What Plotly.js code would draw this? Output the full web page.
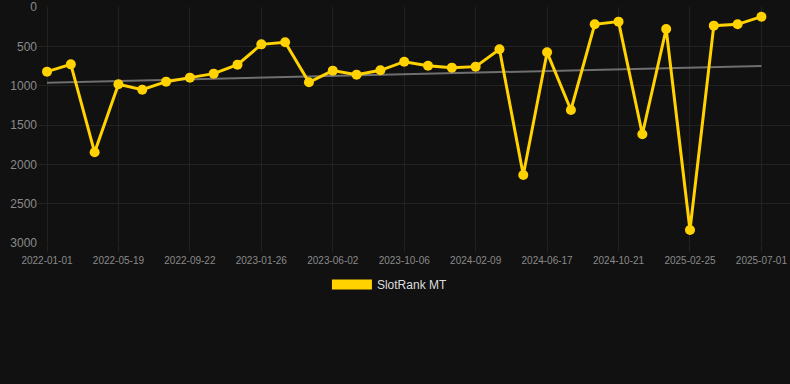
<!DOCTYPE html>
<html>
<head>
<meta charset="utf-8">
<script src="https://cdn.plot.ly/plotly-3.0.1.min.js"></script>
<style>
html,body{margin:0;padding:0;background:#111111;}
#chart{width:790px;height:384px;}
</style>
</head>
<body>
<div id="chart"></div>
<script>
// Point index along the x axis (31 evenly spaced observations)
const pointIndex = [0,1,2,3,4,5,6,7,8,9,10,11,12,13,14,15,16,17,18,19,20,21,22,23,24,25,26,27,28,29,30];
// SlotRank MT rank values (lower is better, axis reversed)
const rankValues = [822,729,1847,983,1051,949,898,847,733,475,449,957,809,860,805,695,746,771,758,538,2135,576,1309,220,186,1618,280,2835,237,220,123];
// Trend line end points
const trendX = [0,30];
const trendValues = [962,750];
// Tick labels
const tickIndex = [0,3,6,9,12,15,18,21,24,27,30];
const tickLabels = ["2022-01-01","2022-05-19","2022-09-22","2023-01-26","2023-06-02","2023-10-06","2024-02-09","2024-06-17","2024-10-21","2025-02-25","2025-07-01"];
const yTicks = [0,500,1000,1500,2000,2500,3000];

const yellow = '#FFD200';

const traces = [
  {
    x: trendX, y: trendValues, mode: 'lines', type: 'scatter',
    line: {color: '#6f6f6f', width: 2}, showlegend: false, hoverinfo: 'skip'
  },
  {
    x: pointIndex, y: rankValues, mode: 'lines+markers', type: 'scatter',
    name: 'SlotRank MT',
    line: {color: yellow, width: 3},
    marker: {color: yellow, size: 10},
    showlegend: false
  },
  {
    x: [null], y: [null], mode: 'lines', type: 'scatter',
    name: 'SlotRank MT',
    line: {color: yellow, width: 12},
    showlegend: true
  }
];

const layout = {
  width: 790, height: 384,
  paper_bgcolor: '#111111', plot_bgcolor: '#111111',
  margin: {l: 38, r: 0, t: 7, b: 141, autoexpand: false},
  font: {family: 'Liberation Sans, Arial, sans-serif', color: '#8a8a8a'},
  xaxis: {
    range: [-0.378, 31.2],
    tickvals: tickIndex, ticktext: tickLabels,
    tickangle: 0,
    tickfont: {size: 10, color: '#8a8a8a'},
    showgrid: true, gridcolor: '#222222', gridwidth: 1,
    zeroline: false, showline: false,
    ticks: 'outside', ticklen: 8, tickcolor: '#222222'
  },
  yaxis: {
    range: [3000, 0],
    tickvals: yTicks,
    tickfont: {size: 12, color: '#8a8a8a'},
    showgrid: true, gridcolor: '#222222', gridwidth: 1,
    zeroline: false, showline: false
  },
  showlegend: true,
  legend: {
    orientation: 'h', x: 0.468, xanchor: 'center',
    y: -0.114, yanchor: 'top',
    font: {size: 12, color: '#dddddd'},
    itemwidth: 40,
    bgcolor: 'rgba(0,0,0,0)'
  }
};

Plotly.newPlot('chart', traces, layout, {displayModeBar: false, staticPlot: true});
</script>
</body>
</html>
